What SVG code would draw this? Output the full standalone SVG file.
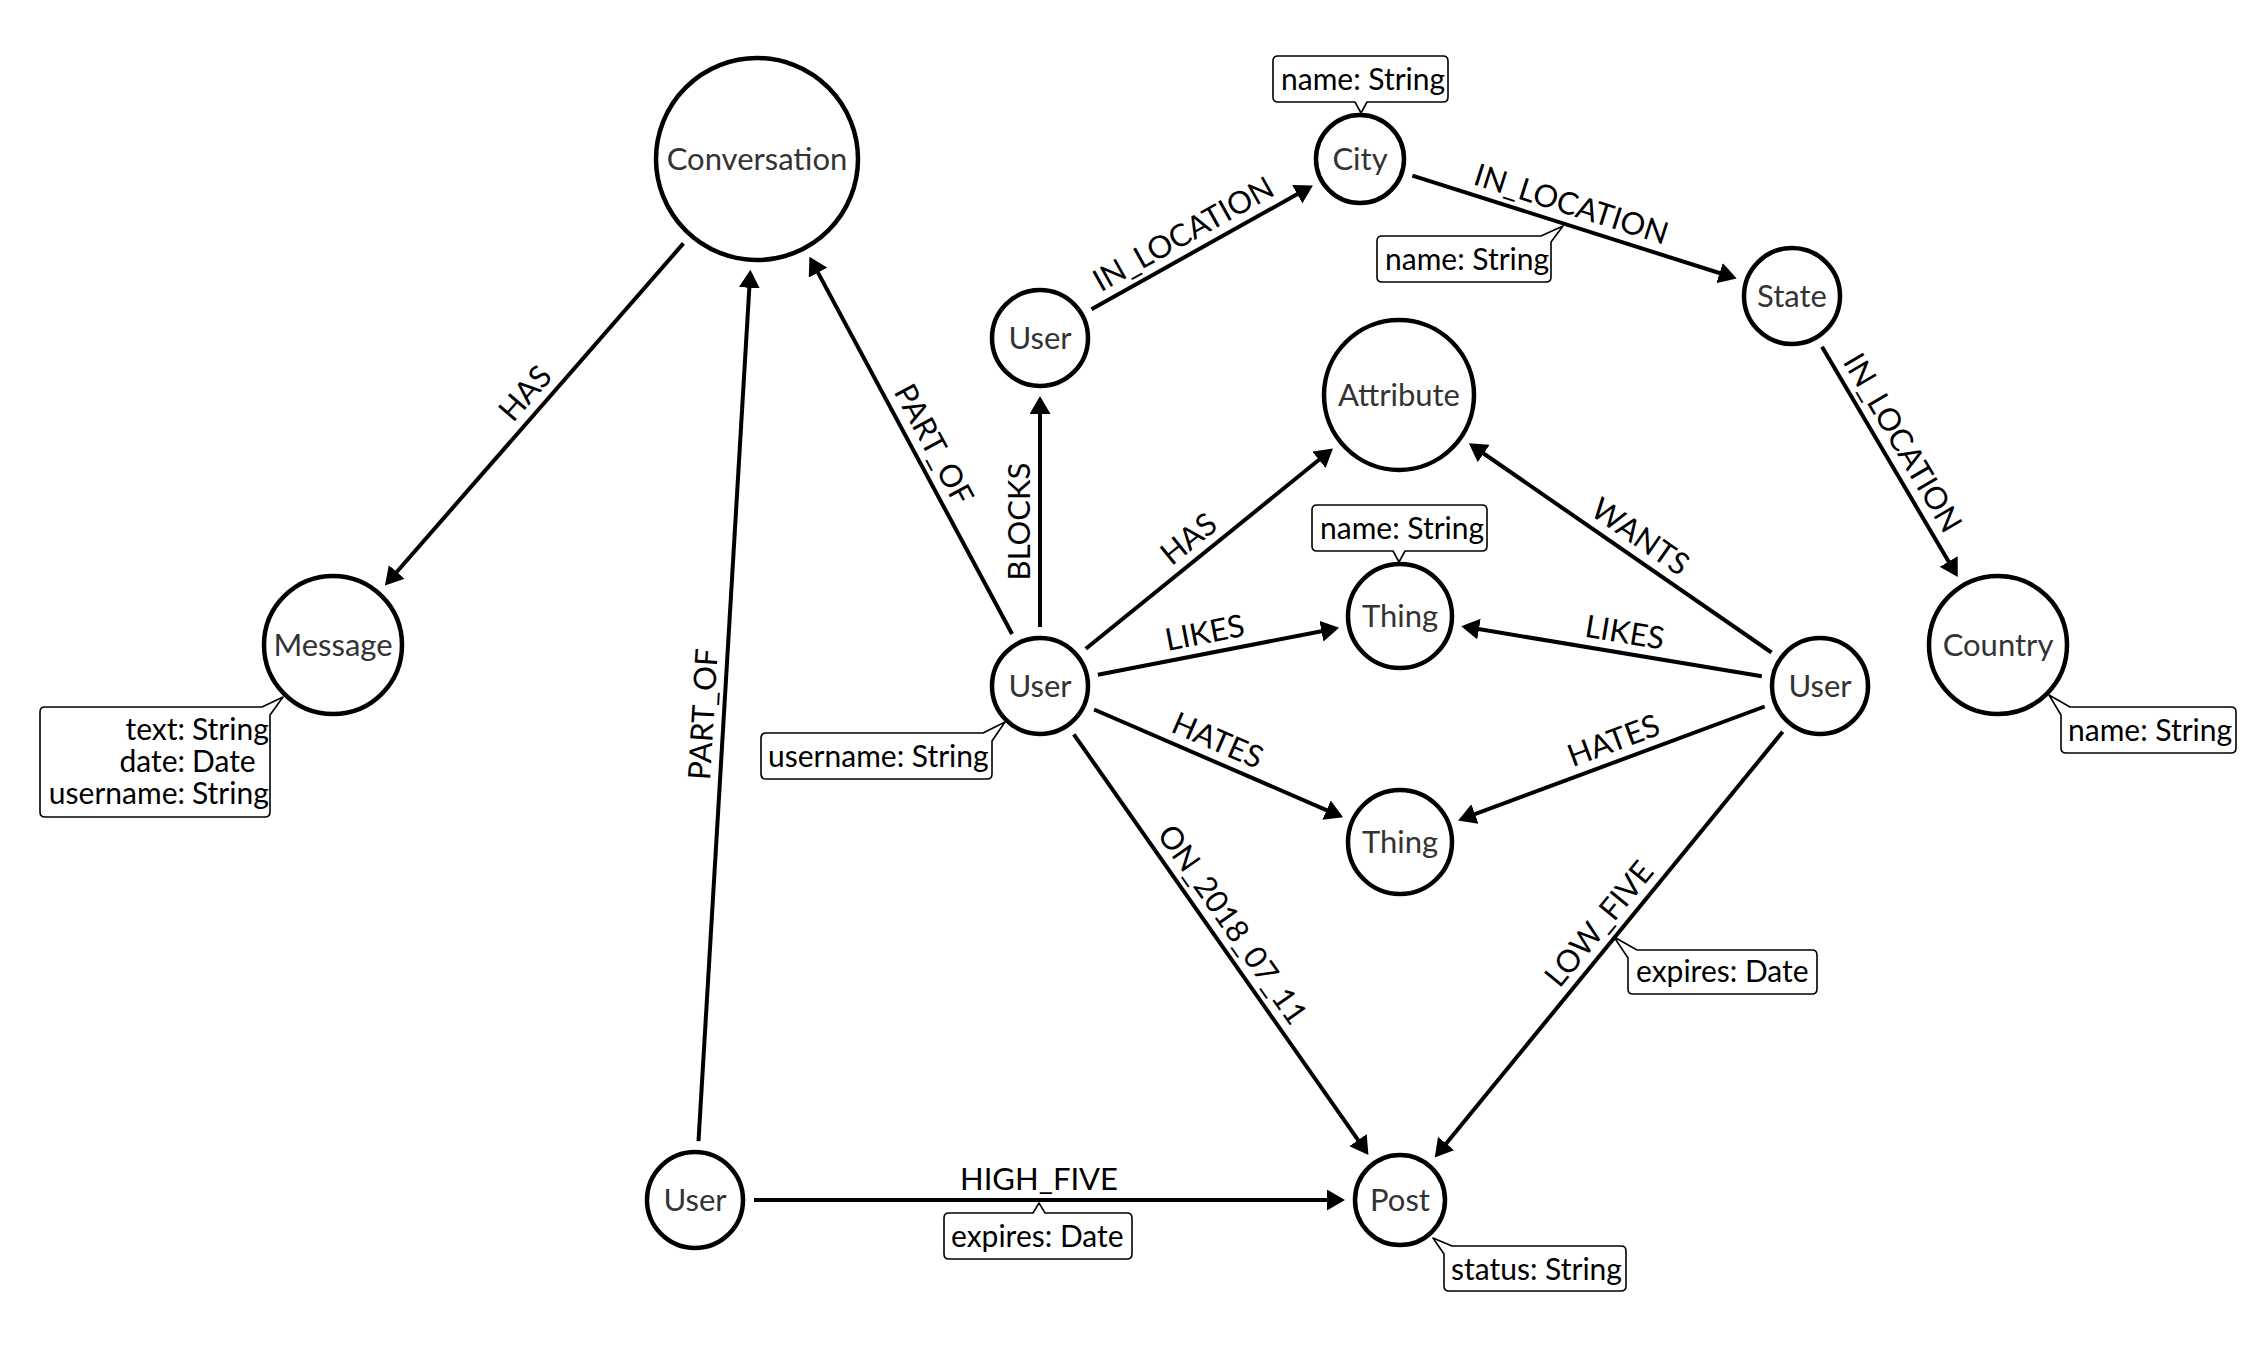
<svg xmlns="http://www.w3.org/2000/svg" width="2262" height="1356" viewBox="0 0 2262 1356">
<defs>
<marker id="arrow" markerUnits="userSpaceOnUse" viewBox="0 -10.5 18 21" refX="8" refY="0" markerWidth="18" markerHeight="21" orient="auto">
<path d="M0,-10.5 L18,0 L0,10.5 Z" fill="#000"/>
</marker>
<style>
.node{fill:#fff;stroke:#000;stroke-width:4.5}
.cap{font-family:Lato,"Open Sans",sans-serif;font-size:31px;fill:#333;text-anchor:middle}
.edge{stroke:#000;stroke-width:4;fill:none;marker-end:url(#arrow)}
.lbl{font-family:Lato,"Open Sans",sans-serif;font-size:31px;fill:#000;text-anchor:middle}
.box{fill:#fff;stroke:#000;stroke-width:1.6;stroke-linejoin:round}
.prop{font-family:Lato,"Open Sans",sans-serif;font-size:30px;fill:#000}
</style>
</defs>
<rect width="2262" height="1356" fill="#fff"/>

<g id="connectors">
<g id="e-has-msg"><line class="edge" x1="683.4" y1="243.4" x2="391.5" y2="578"/><text class="lbl" transform="translate(540.8,407) rotate(-48.9)" y="-10">HAS</text></g>
<g id="e-partof-b"><line class="edge" x1="698.5" y1="1141.1" x2="749.8" y2="279.8"/><text class="lbl" transform="translate(723.9,715.5) rotate(-86.6)" y="-10">PART_OF</text></g>
<g id="e-partof-c"><line class="edge" x1="1012.1" y1="634" x2="814.2" y2="265.6"/><text class="lbl" transform="translate(915.5,454.2) rotate(61.77)" y="-10">PART_OF</text></g>
<g id="e-blocks"><line class="edge" x1="1040" y1="627" x2="1040" y2="406"/><text class="lbl" transform="translate(1040,521.5) rotate(-90)" y="-10">BLOCKS</text></g>
<g id="e-inloc-1"><line class="edge" x1="1091.5" y1="309.2" x2="1304.2" y2="190.3"/><text class="lbl" transform="translate(1193.5,252.2) rotate(-29.2)" y="-10">IN_LOCATION</text></g>
<g id="e-inloc-2"><line class="edge" x1="1412.4" y1="175.6" x2="1727.2" y2="275.5"/><text class="lbl" transform="translate(1565,224) rotate(17.6)" y="-10">IN_LOCATION</text>
<path class="box" d="M1382,236 H1541 L1563,226 L1551,242 V277 Q1551,282 1546,282 H1382 Q1377,282 1377,277 V241 Q1377,236 1382,236 Z"/><text class="prop" x="1385" y="270">name: String</text></g>
<g id="e-inloc-3"><line class="edge" x1="1822" y1="346.8" x2="1952.7" y2="568.4"/><text class="lbl" transform="translate(1884.8,453.3) rotate(59.45)" y="-10">IN_LOCATION</text></g>
<g id="e-has-attr"><line class="edge" x1="1085.8" y1="648.8" x2="1325.2" y2="454.8"/><text class="lbl" transform="translate(1201.6,555) rotate(-39)" y="-10">HAS</text></g>
<g id="e-likes-1"><line class="edge" x1="1097.9" y1="674.7" x2="1329.3" y2="629.7"/><text class="lbl" transform="translate(1208.7,653.1) rotate(-11)" y="-10">LIKES</text></g>
<g id="e-hates-1"><line class="edge" x1="1094.1" y1="709.5" x2="1333.9" y2="813.3"/><text class="lbl" transform="translate(1209.4,759.4) rotate(23.4)" y="-10">HATES</text></g>
<g id="e-on"><line class="edge" x1="1073.8" y1="734.3" x2="1362.7" y2="1146.7"/><text class="lbl" transform="translate(1215.4,936.4) rotate(55)" y="-10">ON_2018_07_11</text></g>
<g id="e-wants"><line class="edge" x1="1771.5" y1="652.5" x2="1477.1" y2="449"/><text class="lbl" transform="translate(1628.4,553.6) rotate(34.66)" y="-10">WANTS</text></g>
<g id="e-likes-2"><line class="edge" x1="1761.8" y1="676.3" x2="1471.1" y2="627.8"/><text class="lbl" transform="translate(1621.4,652.9) rotate(9.46)" y="-10">LIKES</text></g>
<g id="e-hates-2"><line class="edge" x1="1764.7" y1="706.5" x2="1467.5" y2="816.9"/><text class="lbl" transform="translate(1620.8,760) rotate(-20.4)" y="-10">HATES</text></g>
<g id="e-lowfive"><line class="edge" x1="1782.7" y1="731.7" x2="1441.1" y2="1149.7"/><text class="lbl" transform="translate(1615.1,936.9) rotate(-50.7)" y="-10">LOW_FIVE</text>
<path class="box" d="M1628,958 L1614,937 L1637,950 H1812 Q1817,950 1817,955 V989 Q1817,994 1812,994 H1633 Q1628,994 1628,989 Z"/><text class="prop" x="1636" y="982">expires: Date</text></g>
<g id="e-highfive"><line class="edge" x1="754" y1="1200" x2="1335" y2="1200"/><text class="lbl" x="1039" y="1190">HIGH_FIVE</text>
<path class="box" d="M949,1213 H1033 L1039,1203 L1045,1213 H1127 Q1132,1213 1132,1218 V1254 Q1132,1259 1127,1259 H949 Q944,1259 944,1254 V1218 Q944,1213 949,1213 Z"/><text class="prop" x="951" y="1247">expires: Date</text></g>
</g>

<g id="n-conversation"><circle class="node" cx="757" cy="159" r="101"/><text class="cap" x="757" y="170">Conversation</text></g>
<g id="n-city"><circle class="node" cx="1360" cy="159" r="44"/><text class="cap" x="1360" y="170">City</text>
<path class="box" d="M1278,56 H1443 Q1448,56 1448,61 V97 Q1448,102 1443,102 H1367 L1361,113 L1355,102 H1278 Q1273,102 1273,97 V61 Q1273,56 1278,56 Z"/><text class="prop" x="1281" y="90">name: String</text></g>
<g id="n-user-top"><circle class="node" cx="1040" cy="338" r="48"/><text class="cap" x="1040" y="349">User</text></g>
<g id="n-state"><circle class="node" cx="1792" cy="296" r="48"/><text class="cap" x="1792" y="307">State</text></g>
<g id="n-attribute"><circle class="node" cx="1399" cy="395" r="75"/><text class="cap" x="1399" y="406">Attribute</text></g>
<g id="n-message"><circle class="node" cx="333" cy="645" r="69"/><text class="cap" x="333" y="656">Message</text>
<path class="box" d="M45,707 H262 L283,697 L270,715 V812 Q270,817 265,817 H45 Q40,817 40,812 V712 Q40,707 45,707 Z"/>
<text class="prop" x="185" y="740" text-anchor="end">text:</text><text class="prop" x="192" y="740">String</text>
<text class="prop" x="185" y="772" text-anchor="end">date:</text><text class="prop" x="192" y="772">Date</text>
<text class="prop" x="185" y="804" text-anchor="end">username:</text><text class="prop" x="192" y="804">String</text></g>
<g id="n-thing-1"><circle class="node" cx="1400" cy="616" r="52"/><text class="cap" x="1400" y="627">Thing</text>
<path class="box" d="M1317,505 H1482 Q1487,505 1487,510 V546 Q1487,551 1482,551 H1405 L1399,562 L1393,551 H1317 Q1312,551 1312,546 V510 Q1312,505 1317,505 Z"/><text class="prop" x="1320" y="539">name: String</text></g>
<g id="n-user-center"><circle class="node" cx="1040" cy="686" r="48"/><text class="cap" x="1040" y="697">User</text>
<path class="box" d="M766,733 H983 L1005,722 L992,741 V774 Q992,779 987,779 H766 Q761,779 761,774 V738 Q761,733 766,733 Z"/><text class="prop" x="768" y="767">username: String</text></g>
<g id="n-user-right"><circle class="node" cx="1820" cy="686" r="48"/><text class="cap" x="1820" y="697">User</text></g>
<g id="n-country"><circle class="node" cx="1998" cy="645" r="69"/><text class="cap" x="1998" y="656">Country</text>
<path class="box" d="M2061,715 L2049,695 L2070,707 H2231 Q2236,707 2236,712 V748 Q2236,753 2231,753 H2066 Q2061,753 2061,748 Z"/><text class="prop" x="2068" y="741">name: String</text></g>
<g id="n-thing-2"><circle class="node" cx="1400" cy="842" r="52"/><text class="cap" x="1400" y="853">Thing</text></g>
<g id="n-user-bottom"><circle class="node" cx="695" cy="1200" r="48"/><text class="cap" x="695" y="1211">User</text></g>
<g id="n-post"><circle class="node" cx="1400" cy="1200" r="45"/><text class="cap" x="1400" y="1211">Post</text>
<path class="box" d="M1444,1254 L1433,1238 L1452,1246 H1621 Q1626,1246 1626,1251 V1286 Q1626,1291 1621,1291 H1449 Q1444,1291 1444,1286 Z"/><text class="prop" x="1451" y="1280">status: String</text></g>
</svg>
